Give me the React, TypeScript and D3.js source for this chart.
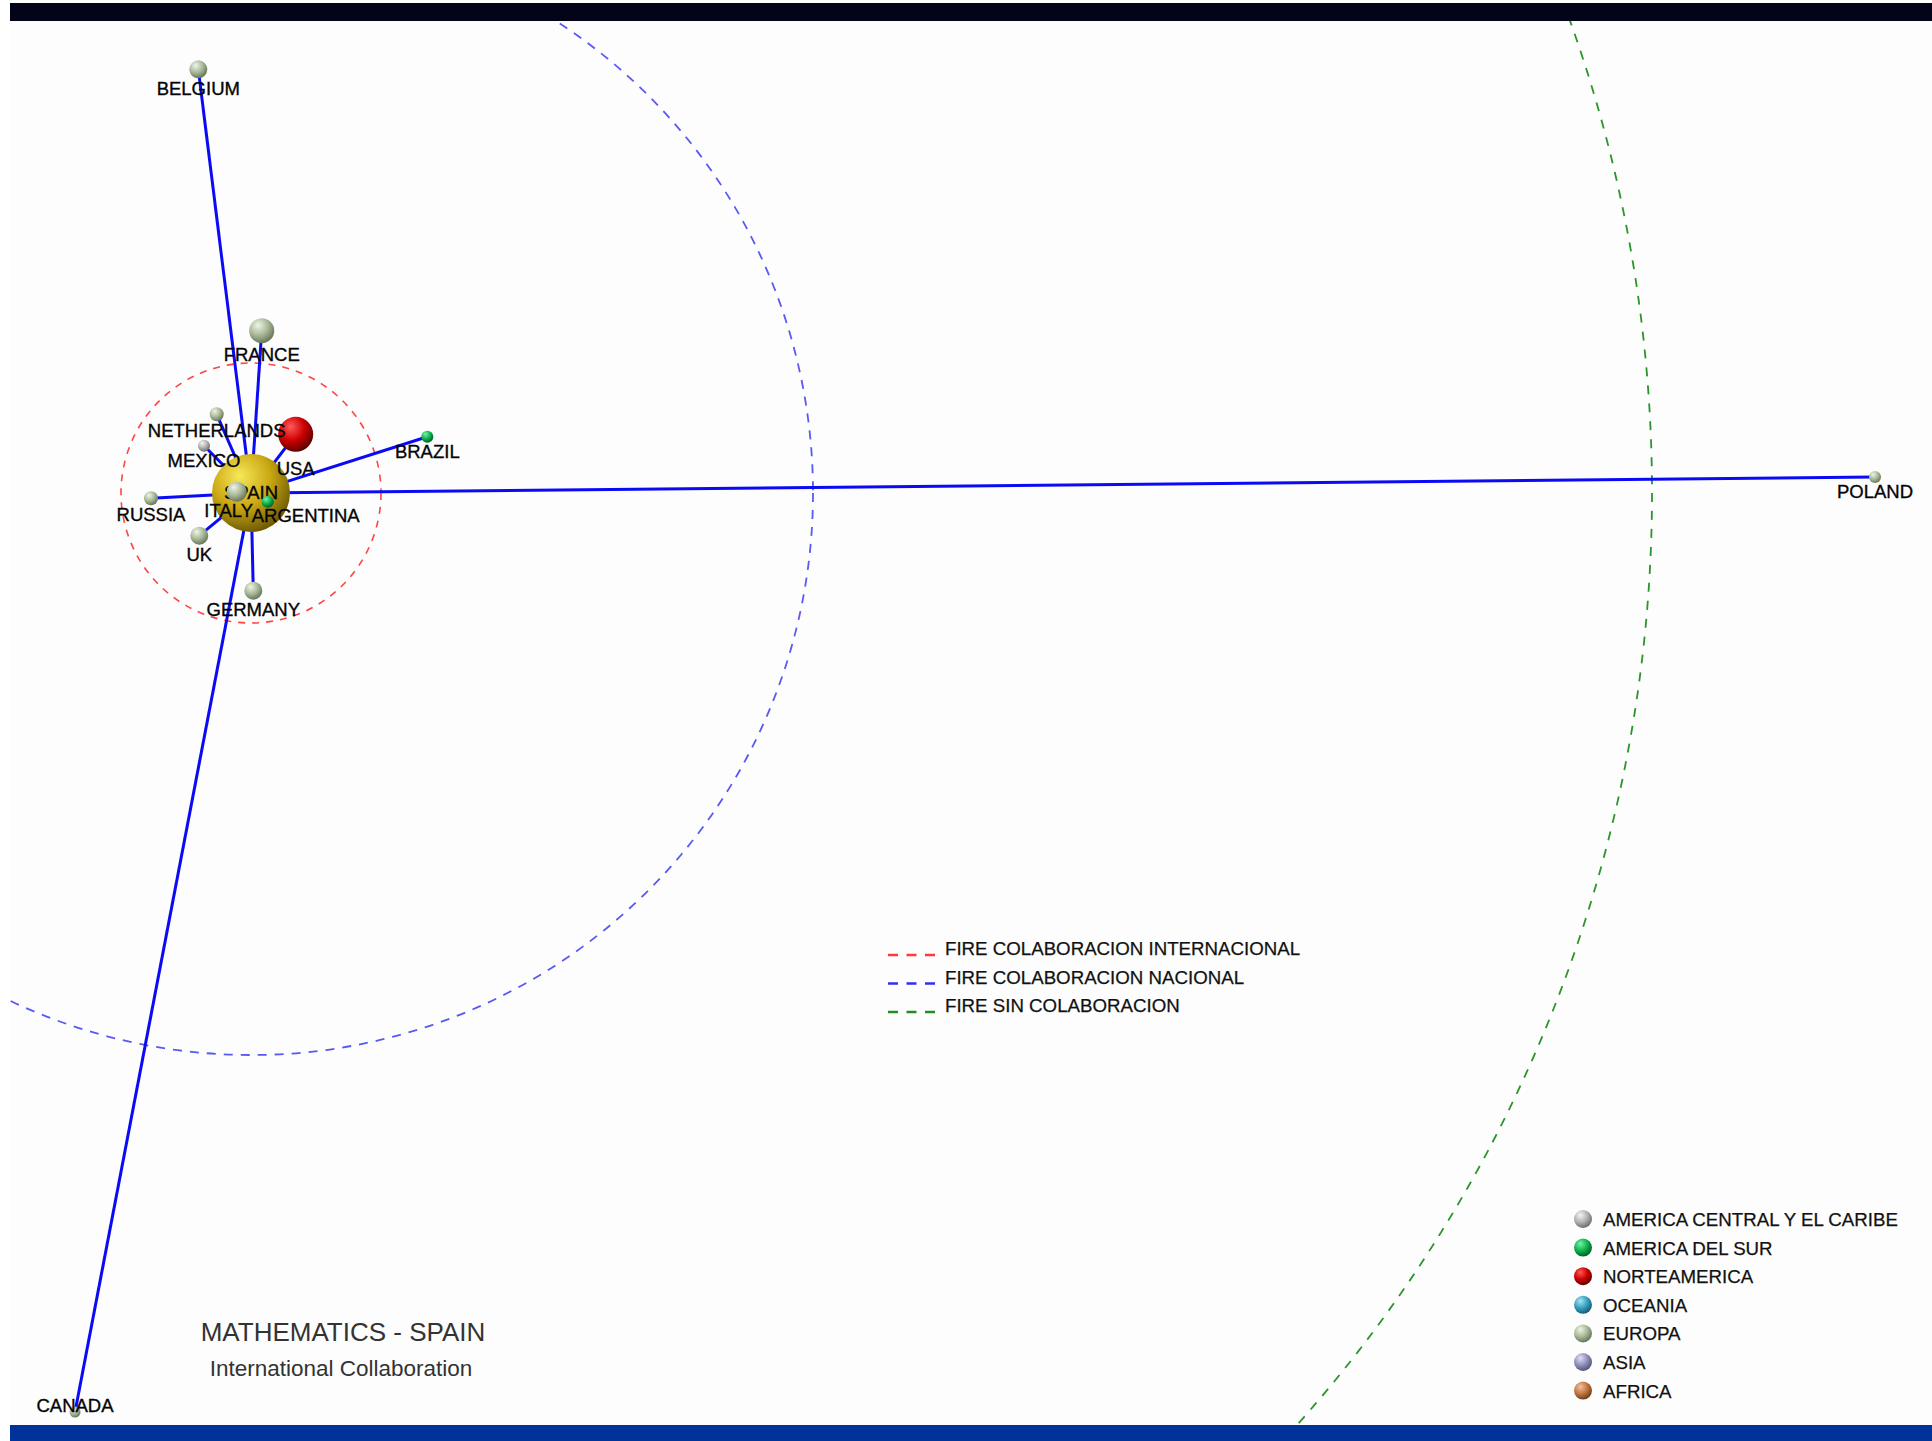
import { useRef, useEffect } from "react";
import * as d3 from "d3";

// Countries in the collaboration network (layout coordinates, size = co-authored output)
const countries = [
  "SPAIN",
  "FRANCE",
  "USA",
  "NETHERLANDS",
  "MEXICO",
  "BRAZIL",
  "RUSSIA",
  "ITALY",
  "ARGENTINA",
  "UK",
  "GERMANY",
  "BELGIUM",
  "POLAND",
  "CANADA",
];
const countryRegion = [
  "HOME",
  "EUROPA",
  "NORTEAMERICA",
  "EUROPA",
  "AMERICA CENTRAL Y EL CARIBE",
  "AMERICA DEL SUR",
  "EUROPA",
  "EUROPA",
  "AMERICA DEL SUR",
  "EUROPA",
  "EUROPA",
  "EUROPA",
  "EUROPA",
  "EUROPA",
];
const countryX = [241, 251.7, 285.7, 206.7, 194, 417.3, 141, 226.7, 257.7, 189.3, 243.3, 188.3, 1865, 65];
const countryY = [472, 309.7, 413.3, 393.3, 424.7, 415.7, 477.3, 470.7, 480.7, 514.7, 569.7, 48.3, 456, 1391];
const countrySize = [1000, 103, 201, 32, 24, 24, 32, 66, 24, 53, 53, 53, 24, 20];

// Every edge links the home country with a partner
const links = [
  ["SPAIN", "BELGIUM"],
  ["SPAIN", "CANADA"],
  ["SPAIN", "POLAND"],
  ["SPAIN", "FRANCE"],
  ["SPAIN", "NETHERLANDS"],
  ["SPAIN", "MEXICO"],
  ["SPAIN", "USA"],
  ["SPAIN", "BRAZIL"],
  ["SPAIN", "RUSSIA"],
  ["SPAIN", "UK"],
  ["SPAIN", "GERMANY"],
  ["SPAIN", "ITALY"],
  ["SPAIN", "ARGENTINA"],
];

// FIRE rings (radius in layout units)
const fireLabels = [
  "FIRE COLABORACION INTERNACIONAL",
  "FIRE COLABORACION NACIONAL",
  "FIRE SIN COLABORACION",
];
const fireRadius = [130, 562, 1401];

const regions = [
  "AMERICA CENTRAL Y EL CARIBE",
  "AMERICA DEL SUR",
  "NORTEAMERICA",
  "OCEANIA",
  "EUROPA",
  "ASIA",
  "AFRICA",
];

const title = "MATHEMATICS - SPAIN";
const subtitle = "International Collaboration";

// Styling
const fireColors = ["#ff3a3a", "#3030f0", "#1f8f1f"];
const fireDash = ["7,7", "9,8", "9,9"];
const sphereColors: Record<string, [string, string, string]> = {
  HOME: ["#f8e85a", "#c9a712", "#6e5a04"],
  "AMERICA CENTRAL Y EL CARIBE": ["#f4f4f4", "#b2b2b2", "#6a6a6a"],
  "AMERICA DEL SUR": ["#70f5a8", "#0fb24e", "#005e24"],
  NORTEAMERICA: ["#ff5a5a", "#cc0000", "#5e0000"],
  OCEANIA: ["#a8e4f4", "#36a0c2", "#175a70"],
  EUROPA: ["#eef5e6", "#a9b899", "#667557"],
  ASIA: ["#e0e0f6", "#9090ba", "#525278"],
  AFRICA: ["#f6c29c", "#c07842", "#6c3a18"],
};
// label placement tweaks for crowded nodes [dx, dy]
const labelNudge: Record<string, [number, number]> = {
  SPAIN: [0, -64.5],
  CANADA: [0, -20],
  ARGENTINA: [38, -1],
  ITALY: [-8, -2],
  USA: [0, 2.5],
};

const W = 1932;
const H = 1441;
const FONT = "'Liberation Sans', Arial, Helvetica, sans-serif";

export default function App() {
  const ref = useRef<SVGSVGElement>(null);

  useEffect(() => {
    if (!ref.current) return;
    const svg = d3.select(ref.current);
    svg.selectAll("*").remove();

    const left = 10;
    const top = 21;
    const bottom = 1425;

    const x = d3.scaleLinear().domain([0, W - left]).range([left, W]);
    const y = d3.scaleLinear().domain([0, bottom - top]).range([top, bottom]);
    const r = d3.scaleSqrt().domain([0, d3.max(countrySize) as number]).range([0, 39]);

    const nodes = countries.map((name, i) => ({
      name,
      region: countryRegion[i],
      cx: x(countryX[i]),
      cy: y(countryY[i]),
      r: r(countrySize[i]),
    }));
    const byName = new Map(nodes.map((n) => [n.name, n]));

    // Gradients for shaded spheres
    const defs = svg.append("defs");
    const gradId: Record<string, string> = {};
    Object.entries(sphereColors).forEach(([key, c], i) => {
      const g = defs
        .append("radialGradient")
        .attr("id", `sph${i}`)
        .attr("cx", "0.38")
        .attr("cy", "0.32")
        .attr("r", "0.7")
        .attr("fx", "0.35")
        .attr("fy", "0.28");
      g.append("stop").attr("offset", "0%").attr("stop-color", c[0]);
      g.append("stop").attr("offset", "55%").attr("stop-color", c[1]);
      g.append("stop").attr("offset", "100%").attr("stop-color", c[2]);
      gradId[key] = `sph${i}`;
    });
    const fillOf = (region: string) => `url(#${gradId[region]})`;

    const clip = defs.append("clipPath").attr("id", "plotClip");
    clip
      .append("rect")
      .attr("x", left)
      .attr("y", top)
      .attr("width", W - left)
      .attr("height", bottom - top);

    // Background frame
    svg.append("rect").attr("width", W).attr("height", H).attr("fill", "#ffffff");
    svg
      .append("rect")
      .attr("x", left)
      .attr("y", top)
      .attr("width", W - left)
      .attr("height", bottom - top)
      .attr("fill", "#fdfdfd");
    svg
      .append("rect")
      .attr("x", left)
      .attr("y", 3)
      .attr("width", W - left)
      .attr("height", top - 3)
      .attr("fill", "#03031a");
    svg
      .append("rect")
      .attr("x", left)
      .attr("y", bottom)
      .attr("width", W - left)
      .attr("height", H - bottom)
      .attr("fill", "#003399");

    const plot = svg.append("g").attr("clip-path", "url(#plotClip)");
    const home = byName.get("SPAIN")!;

    // FIRE rings around the home country
    plot
      .append("g")
      .selectAll("circle")
      .data(fireRadius)
      .join("circle")
      .attr("cx", home.cx)
      .attr("cy", home.cy)
      .attr("r", (d) => x(d) - x(0))
      .attr("fill", "none")
      .attr("stroke", (_d, i) => fireColors[i])
      .attr("stroke-width", (_d, i) => (i === 0 ? 1.6 : 1.8))
      .attr("stroke-opacity", (_d, i) => (i === 1 ? 0.8 : 0.95))
      .attr("stroke-dasharray", (_d, i) => fireDash[i]);

    // Edges
    plot
      .append("g")
      .selectAll("line")
      .data(links)
      .join("line")
      .attr("x1", (d) => byName.get(d[0])!.cx)
      .attr("y1", (d) => byName.get(d[0])!.cy)
      .attr("x2", (d) => byName.get(d[1])!.cx)
      .attr("y2", (d) => byName.get(d[1])!.cy)
      .attr("stroke", "#0a0af5")
      .attr("stroke-width", 3);

    const labelPos = (n: (typeof nodes)[number]) => {
      const nudge = labelNudge[n.name] || [0, 0];
      return [n.cx + nudge[0], n.cy + 1.5 * n.r + 12 + nudge[1]];
    };

    // Home node first with its label, partners on top
    const drawNode = (g: any, n: (typeof nodes)[number]) =>
      g
        .append("circle")
        .attr("cx", n.cx)
        .attr("cy", n.cy)
        .attr("r", n.r)
        .attr("fill", fillOf(n.region));
    const drawLabel = (g: any, n: (typeof nodes)[number]) => {
      const [lx, ly] = labelPos(n);
      g.append("text")
        .attr("x", lx)
        .attr("y", ly)
        .attr("text-anchor", "middle")
        .attr("font-family", FONT)
        .attr("font-size", 18.5)
        .attr("fill", "#050505")
        .attr("stroke", "#050505")
        .attr("stroke-width", 0.35)
        .text(n.name);
    };
    const nodeLayer = plot.append("g");
    drawNode(nodeLayer, home);
    drawLabel(nodeLayer, home);
    nodes.filter((n) => n !== home).forEach((n) => drawNode(nodeLayer, n));
    nodes.filter((n) => n !== home).forEach((n) => drawLabel(nodeLayer, n));

    // FIRE legend
    const fireLegend = svg.append("g").attr("transform", "translate(888,955)");
    fireLabels.forEach((label, i) => {
      const row = fireLegend.append("g").attr("transform", `translate(0,${i * 28.5})`);
      row
        .append("line")
        .attr("x1", 0)
        .attr("x2", 47)
        .attr("y1", 0)
        .attr("y2", 0)
        .attr("stroke", fireColors[i])
        .attr("stroke-width", 2.5)
        .attr("stroke-dasharray", "10,8.5");
      row
        .append("text")
        .attr("x", 57)
        .attr("y", 0)
        .attr("font-family", FONT)
        .attr("font-size", 18.7)
        .attr("fill", "#111")
        .attr("stroke", "#111")
        .attr("stroke-width", 0.25)
        .text(label);
    });

    // Region legend
    const regionLegend = svg.append("g").attr("transform", "translate(1583,1219)");
    regions.forEach((reg, i) => {
      const row = regionLegend.append("g").attr("transform", `translate(0,${i * 28.6})`);
      row.append("circle").attr("r", 9).attr("fill", fillOf(reg));
      row
        .append("text")
        .attr("x", 20)
        .attr("y", 7)
        .attr("font-family", FONT)
        .attr("font-size", 18.7)
        .attr("fill", "#111")
        .attr("stroke", "#111")
        .attr("stroke-width", 0.25)
        .text(reg);
    });

    // Title block
    svg
      .append("text")
      .attr("x", 343)
      .attr("y", 1341)
      .attr("text-anchor", "middle")
      .attr("font-family", FONT)
      .attr("font-size", 26)
      .attr("fill", "#333")
      .text(title);
    svg
      .append("text")
      .attr("x", 341)
      .attr("y", 1376)
      .attr("text-anchor", "middle")
      .attr("font-family", FONT)
      .attr("font-size", 22.5)
      .attr("fill", "#333")
      .text(subtitle);
  }, []);

  return (
    <svg
      ref={ref}
      width={W}
      height={H}
      style={{ position: "absolute", left: 0, top: 0, display: "block" }}
    />
  );
}
